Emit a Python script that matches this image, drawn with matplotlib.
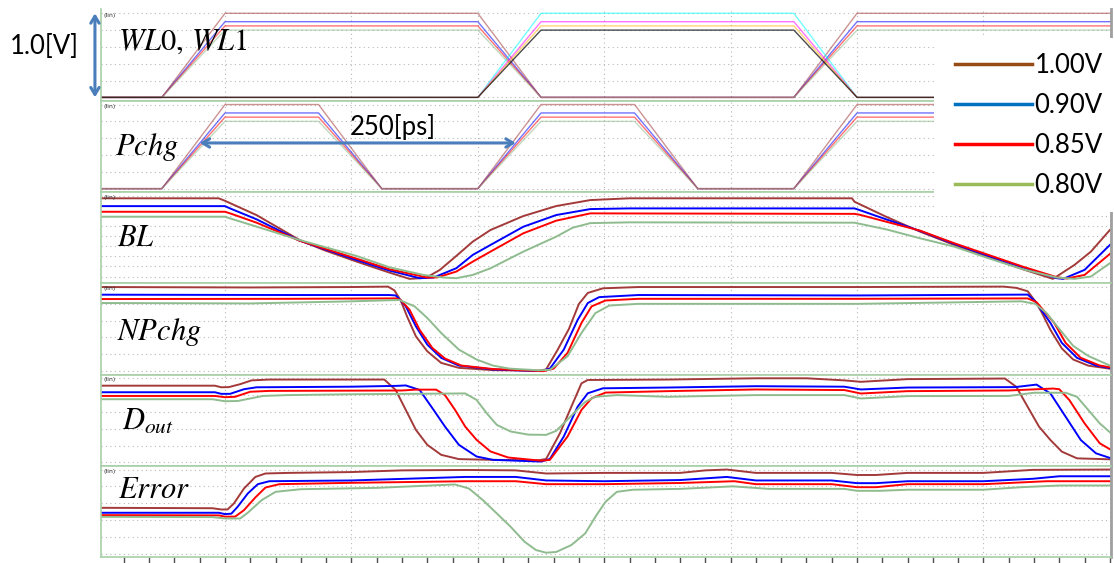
import numpy as np
import matplotlib.pyplot as plt
from matplotlib.lines import Line2D
from matplotlib.patches import Rectangle
from matplotlib.ticker import MultipleLocator

plt.rcParams['mathtext.fontset'] = 'stix'

W, H = 1114, 563

# supply corners, trace colours
vdd_labels = ['1.00V', '0.90V', '0.85V', '0.80V']
wave_colors = ['#a33a3a', '#0000ff', '#ff0000', '#8fbc8f']
wl1_colors = ['#00ffff', '#ff00ff', '#ffb300', '#000000']
legend_colors = ['#964b14', '#0070c0', '#ff0000', '#9bbb59']

# ---- waveforms, (time [ps], voltage [V]) ----
wl0_100 = [(0, 0), (50, 0), (100, 1.00), (300, 1.00), (350, 0), (550, 0), (600, 1.00), (801, 1.00)]
wl0_090 = [(0, 0), (50, 0), (100, 0.90), (300, 0.90), (350, 0), (550, 0), (600, 0.90), (801, 0.90)]
wl0_085 = [(0, 0), (50, 0), (100, 0.85), (300, 0.85), (350, 0), (550, 0), (600, 0.85), (801, 0.85)]
wl0_080 = [(0, 0), (50, 0), (100, 0.80), (300, 0.80), (350, 0), (550, 0), (600, 0.80), (801, 0.80)]

wl1_100 = [(0, 0), (300, 0), (350, 1.00), (550, 1.00), (600, 0), (801, 0)]
wl1_090 = [(0, 0), (300, 0), (350, 0.90), (550, 0.90), (600, 0), (801, 0)]
wl1_085 = [(0, 0), (300, 0), (350, 0.85), (550, 0.85), (600, 0), (801, 0)]
wl1_080 = [(0, 0), (300, 0), (350, 0.80), (550, 0.80), (600, 0), (801, 0)]

pchg_100 = [(0, 0), (50, 0), (100, 1.00), (174, 1.00), (224, 0), (300, 0), (350, 1.00), (424, 1.00),
            (474, 0), (550, 0), (600, 1.00), (674, 1.00), (724, 0), (801, 0)]
pchg_090 = [(0, 0), (50, 0), (100, 0.90), (174, 0.90), (224, 0), (300, 0), (350, 0.90), (424, 0.90),
            (474, 0), (550, 0), (600, 0.90), (674, 0.90), (724, 0), (801, 0)]
pchg_085 = [(0, 0), (50, 0), (100, 0.85), (174, 0.85), (224, 0), (300, 0), (350, 0.85), (424, 0.85),
            (474, 0), (550, 0), (600, 0.85), (674, 0.85), (724, 0), (801, 0)]
pchg_080 = [(0, 0), (50, 0), (100, 0.80), (174, 0.80), (224, 0), (300, 0), (350, 0.80), (424, 0.80),
            (474, 0), (550, 0), (600, 0.80), (674, 0.80), (724, 0), (801, 0)]

bl_100 = [(0, 0.97), (95, 0.97), (100, 0.94), (125, 0.77), (159, 0.474), (178, 0.356), (204, 0.218),
          (230, 0.087), (246, 0.012), (259, 0.025), (270, 0.119), (283, 0.285), (296, 0.455), (310, 0.593),
          (336, 0.759), (362, 0.878), (389, 0.949), (420, 0.97), (596, 0.97), (598, 0.929), (623, 0.751),
          (650, 0.573), (677, 0.415), (704, 0.269), (731, 0.127), (755, 0.012), (772, 0.178), (785, 0.336),
          (800, 0.593)]
bl_090 = [(0, 0.877), (100, 0.877), (104, 0.85), (125, 0.72), (159, 0.466), (204, 0.237), (230, 0.111),
          (254, 0.02), (265, 0.028), (283, 0.139), (296, 0.297), (310, 0.415), (336, 0.632), (362, 0.771),
          (389, 0.842), (420, 0.85), (598, 0.85), (602, 0.83), (623, 0.72), (650, 0.581), (677, 0.427),
          (704, 0.285), (731, 0.15), (758, 0.02), (763, 0.012), (780, 0.119), (800, 0.415)]
bl_085 = [(0, 0.81), (100, 0.81), (104, 0.791), (125, 0.68), (159, 0.466), (204, 0.253), (230, 0.127),
          (260, 0.028), (268, 0.03), (283, 0.099), (296, 0.217), (310, 0.336), (336, 0.554), (362, 0.704),
          (389, 0.791), (420, 0.79), (598, 0.785), (602, 0.775), (623, 0.692), (650, 0.585), (677, 0.435),
          (704, 0.297), (731, 0.158), (758, 0.032), (766, 0.016), (780, 0.059), (800, 0.308)]
bl_080 = [(0, 0.751), (100, 0.751), (104, 0.731), (125, 0.633), (159, 0.474), (204, 0.285), (230, 0.15),
          (257, 0.059), (273, 0.028), (283, 0.02), (296, 0.059), (310, 0.138), (336, 0.336), (362, 0.514),
          (375, 0.62), (389, 0.675), (420, 0.684), (598, 0.68), (623, 0.601), (650, 0.494), (677, 0.395),
          (704, 0.257), (731, 0.127), (758, 0.028), (772, 0.012), (785, 0.04), (800, 0.198)]

npchg_100 = [(0, 1.0), (120, 0.995), (200, 1.0), (229, 1.005), (234, 0.96), (239, 0.84), (244, 0.651),
             (251, 0.414), (260, 0.236), (271, 0.098), (285, 0.039), (312, 0.012), (348, 0.005), (354, 0.02),
             (363, 0.25), (372, 0.5), (380, 0.8), (387, 0.93), (399, 0.985), (427, 1.0), (600, 1.0),
             (716, 1.005), (726, 0.99), (735, 0.95), (741, 0.83), (746, 0.7), (753, 0.49), (762, 0.27),
             (771, 0.138), (783, 0.065), (801, 0.027)]
npchg_090 = [(0, 0.909), (150, 0.905), (230, 0.905), (235, 0.9), (239, 0.84), (243, 0.77), (251, 0.533),
             (260, 0.316), (271, 0.158), (285, 0.066), (312, 0.02), (350, 0.0), (357, 0.03), (368, 0.256),
             (379, 0.61), (387, 0.81), (396, 0.88), (427, 0.905), (600, 0.9), (735, 0.91), (741, 0.83),
             (753, 0.573), (762, 0.336), (774, 0.158), (789, 0.067), (801, 0.035)]
npchg_085 = [(0, 0.857), (150, 0.86), (235, 0.865), (239, 0.845), (246, 0.73), (254, 0.49), (264, 0.276),
             (274, 0.15), (287, 0.066), (312, 0.025), (352, 0.0), (360, 0.03), (371, 0.217), (382, 0.573),
             (390, 0.77), (401, 0.84), (427, 0.86), (600, 0.86), (735, 0.865), (742, 0.82), (756, 0.573),
             (765, 0.336), (777, 0.158), (792, 0.067), (801, 0.043)]
npchg_080 = [(0, 0.81), (120, 0.805), (200, 0.83), (238, 0.846), (250, 0.77), (260, 0.632), (271, 0.454),
             (285, 0.256), (299, 0.138), (312, 0.066), (325, 0.03), (348, 0.01), (357, 0.015), (371, 0.177),
             (382, 0.454), (393, 0.69), (404, 0.78), (427, 0.8), (600, 0.8), (730, 0.83), (741, 0.8),
             (750, 0.69), (759, 0.52), (771, 0.3), (783, 0.18), (801, 0.06)]

dout_100 = [(0, 0.912), (92, 0.912), (97, 0.893), (103, 0.895), (112, 0.93), (121, 0.975), (135, 0.985),
            (226, 0.985), (235, 0.861), (243, 0.624), (251, 0.387), (260, 0.209), (271, 0.09), (285, 0.039),
            (312, 0.03), (348, 0.025), (354, 0.04), (365, 0.347), (374, 0.663), (382, 0.94), (387, 0.98),
            (450, 0.985), (520, 1.0), (560, 1.0), (590, 0.975), (603, 0.958), (640, 0.99), (717, 0.997),
            (726, 0.898), (735, 0.66), (744, 0.424), (753, 0.266), (762, 0.128), (774, 0.048), (801, 0.036)]
dout_090 = [(0, 0.834), (92, 0.834), (97, 0.815), (104, 0.815), (115, 0.87), (125, 0.893), (200, 0.9),
            (236, 0.91), (243, 0.915), (254, 0.861), (265, 0.624), (274, 0.426), (285, 0.209), (299, 0.07),
            (312, 0.03), (350, 0.01), (357, 0.04), (368, 0.308), (379, 0.663), (387, 0.822), (399, 0.881),
            (450, 0.89), (520, 0.906), (590, 0.9), (603, 0.867), (640, 0.89), (725, 0.895), (742, 0.925),
            (753, 0.819), (765, 0.543), (777, 0.266), (789, 0.108), (801, 0.048)]
dout_085 = [(0, 0.79), (92, 0.79), (100, 0.775), (108, 0.78), (120, 0.84), (135, 0.85), (240, 0.855),
            (251, 0.865), (267, 0.865), (274, 0.8), (282, 0.624), (290, 0.426), (299, 0.268), (310, 0.13),
            (324, 0.058), (350, 0.02), (357, 0.03), (371, 0.308), (382, 0.624), (390, 0.762), (401, 0.83),
            (450, 0.847), (520, 0.867), (590, 0.86), (603, 0.819), (640, 0.847), (720, 0.855), (755, 0.878),
            (760, 0.87), (768, 0.74), (780, 0.464), (792, 0.227), (801, 0.148)]
dout_080 = [(0, 0.751), (90, 0.751), (100, 0.727), (110, 0.73), (130, 0.79), (150, 0.8), (200, 0.81),
            (290, 0.82), (299, 0.743), (307, 0.585), (315, 0.446), (326, 0.367), (340, 0.33), (354, 0.327),
            (362, 0.375), (375, 0.57), (385, 0.72), (393, 0.78), (410, 0.8), (450, 0.78), (520, 0.8),
            (590, 0.8), (603, 0.76), (640, 0.788), (720, 0.79), (740, 0.828), (765, 0.828), (774, 0.78),
            (783, 0.622), (792, 0.464), (801, 0.345)]

err_100 = [(0, 0.545), (90, 0.54), (97, 0.525), (102, 0.525), (107, 0.596), (115, 0.774), (124, 0.912),
           (132, 0.953), (150, 0.96), (200, 0.97), (240, 0.99), (290, 0.995), (330, 0.99), (354, 0.953),
           (400, 0.96), (460, 0.96), (480, 0.99), (497, 1.0), (520, 0.96), (580, 0.96), (600, 0.935),
           (615, 0.935), (640, 0.96), (700, 0.96), (739, 0.996), (801, 1.0)]
err_090 = [(0, 0.486), (95, 0.486), (100, 0.47), (105, 0.475), (110, 0.557), (118, 0.715), (126, 0.826),
           (135, 0.861), (200, 0.87), (290, 0.912), (330, 0.912), (354, 0.87), (400, 0.861), (460, 0.875),
           (497, 0.912), (520, 0.87), (580, 0.87), (600, 0.838), (615, 0.838), (640, 0.861), (700, 0.861),
           (739, 0.89), (760, 0.92), (801, 0.92)]
err_085 = [(0, 0.458), (95, 0.455), (100, 0.44), (108, 0.44), (115, 0.517), (124, 0.668), (132, 0.786),
           (143, 0.826), (200, 0.842), (290, 0.861), (330, 0.861), (354, 0.826), (400, 0.826), (460, 0.84),
           (503, 0.861), (520, 0.826), (580, 0.826), (600, 0.79), (615, 0.79), (640, 0.826), (700, 0.826),
           (720, 0.84), (750, 0.861), (801, 0.861)]
err_080 = [(0, 0.438), (90, 0.435), (100, 0.418), (112, 0.418), (118, 0.486), (129, 0.636), (140, 0.735),
           (160, 0.766), (220, 0.782), (270, 0.815), (282, 0.822), (293, 0.774), (304, 0.636), (315, 0.478),
           (326, 0.319), (337, 0.141), (346, 0.043), (354, 0.011), (362, 0.02), (374, 0.102), (385, 0.241),
           (393, 0.438), (401, 0.616), (410, 0.735), (423, 0.76), (460, 0.77), (502, 0.8), (530, 0.77),
           (590, 0.77), (600, 0.747), (618, 0.747), (640, 0.76), (700, 0.76), (730, 0.79), (760, 0.81),
           (801, 0.81)]

# precharge period marker
pchg_start = 80
pchg_period = 250
vscale = 1.0

# panel rows in pixels (top, bottom)
rows = [(9.5, 100.75), (100.75, 192.0), (192.0, 283.25),
        (283.25, 374.5), (374.5, 465.75), (465.75, 557.0)]
frame_green = '#a8d0a8'
grid_kw = dict(color='#b8b8b8', lw=0.8, linestyle=(0, (1, 3)))

fig = plt.figure(figsize=(W / 100, H / 100), dpi=100)


def panel(top, bottom, ygrid, last=False):
    ax = fig.add_axes([101 / W, 1 - bottom / H, 1010 / W, (bottom - top) / H])
    ax.set_xlim(1.9, 800.9)
    ax.set_ylim(-0.04, 1.045)
    ax.xaxis.set_major_locator(MultipleLocator(100))
    ax.xaxis.set_minor_locator(MultipleLocator(20))
    ax.set_yticks(ygrid)
    ax.grid(True, which='major', **grid_kw)
    ax.tick_params(axis='y', length=0, labelleft=False)
    if last:
        ax.tick_params(axis='x', which='both', direction='out', length=4, width=1,
                       color='#505050', labelbottom=False)
    else:
        ax.tick_params(axis='x', which='both', length=0, labelbottom=False)
    for s in ('left', 'bottom', 'top'):
        ax.spines[s].set_color(frame_green)
        ax.spines[s].set_linewidth(1.2)
    ax.spines['top'].set_visible(top > 50)
    ax.spines['right'].set_color('#a0a0a0')
    ax.spines['right'].set_linewidth(2)
    ax.text(0.002, 1 - 5.5 / (bottom - top), '(lin)', transform=ax.transAxes,
            fontsize=4.5, va='center', ha='left', color='#333333')
    return ax


def trace(ax, pts, color, lw=1.4, alpha=1.0):
    t, v = zip(*pts)
    ax.plot(t, v, color=color, lw=lw, alpha=alpha, solid_joinstyle='round')


grid_02 = [0, 0.2, 0.4, 0.6, 0.8, 1.0]
grid_bl = np.arange(0.04, 1.01, 0.12)

ax_wl = panel(*rows[0], grid_02)
ax_pc = panel(*rows[1], grid_02)
ax_bl = panel(*rows[2], grid_bl)
ax_np = panel(*rows[3], grid_02)
ax_do = panel(*rows[4], grid_02)
ax_er = panel(*rows[5], grid_02, last=True)

for pts, c in zip([wl0_100, wl0_090, wl0_085, wl0_080], wave_colors):
    trace(ax_wl, pts, c, lw=1.0, alpha=0.55)
for pts, c in zip([wl1_100, wl1_090, wl1_085, wl1_080], wl1_colors):
    trace(ax_wl, pts, c, lw=1.0, alpha=0.55 if c != '#000000' else 0.7)
for pts, c in zip([pchg_100, pchg_090, pchg_085, pchg_080], wave_colors):
    trace(ax_pc, pts, c, lw=1.0, alpha=0.55)

for ax, group in [(ax_bl, [bl_100, bl_090, bl_085, bl_080]),
                  (ax_np, [npchg_100, npchg_090, npchg_085, npchg_080]),
                  (ax_do, [dout_100, dout_090, dout_085, dout_080]),
                  (ax_er, [err_100, err_090, err_085, err_080])]:
    for pts, c in zip(group, wave_colors):
        trace(ax, pts, c)

# signal names
name_kw = dict(fontsize=22, color='black', ha='left', va='baseline')
fig.text(118 / W, 1 - 50 / H, r'$WL0,\,WL1$', **name_kw)
fig.text(115 / W, 1 - 155 / H, r'$Pchg$', **name_kw)
fig.text(117 / W, 1 - 246.5 / H, r'$BL$', **name_kw)
fig.text(117 / W, 1 - 340.5 / H, r'$NPchg$', **name_kw)
fig.text(122 / W, 1 - 430 / H, r'$D_{out}$', **name_kw)
fig.text(118 / W, 1 - 498 / H, r'$Error$', **name_kw)

# amplitude and period markers
arrow_c = '#4a7ebb'
ax_wl.annotate('', xy=(-0.006, vscale), xytext=(-0.006, 0.0),
               xycoords=ax_wl.get_yaxis_transform(),
               arrowprops=dict(arrowstyle='<->,head_length=0.5,head_width=0.3',
                               color=arrow_c, lw=2.2, shrinkA=0, shrinkB=0),
               annotation_clip=False)
fig.text(10 / W, 1 - 47 / H, '%.1f[V]' % vscale, fontsize=18.5, family='Lato',
         ha='left', va='center')

ax_pc.annotate('', xy=(pchg_start + pchg_period, 0.543), xytext=(pchg_start, 0.543),
               arrowprops=dict(arrowstyle='<->,head_length=0.5,head_width=0.3',
                               color=arrow_c, lw=2.2, shrinkA=0, shrinkB=0),
               annotation_clip=False)
fig.text(350 / W, 1 - 135 / H, '%d[ps]' % pchg_period, fontsize=18.5, family='Lato',
         ha='left', va='baseline')

# legend over a white patch
fig.add_artist(Rectangle((934 / W, 1 - 212 / H), 180 / W, 174 / H, transform=fig.transFigure,
                         facecolor='white', edgecolor='none', zorder=3))
handles = [Line2D([], [], color=c, lw=2.5) for c in legend_colors]
fig.legend(handles, vdd_labels, loc='upper left', bbox_to_anchor=(955 / W, 1 - 53 / H),
           frameon=False, prop={'family': 'Lato', 'size': 18.5}, handlelength=3.0,
           handletextpad=0.1, labelspacing=0.58, borderpad=0, borderaxespad=0)

fig.savefig('out.png', dpi=100)
